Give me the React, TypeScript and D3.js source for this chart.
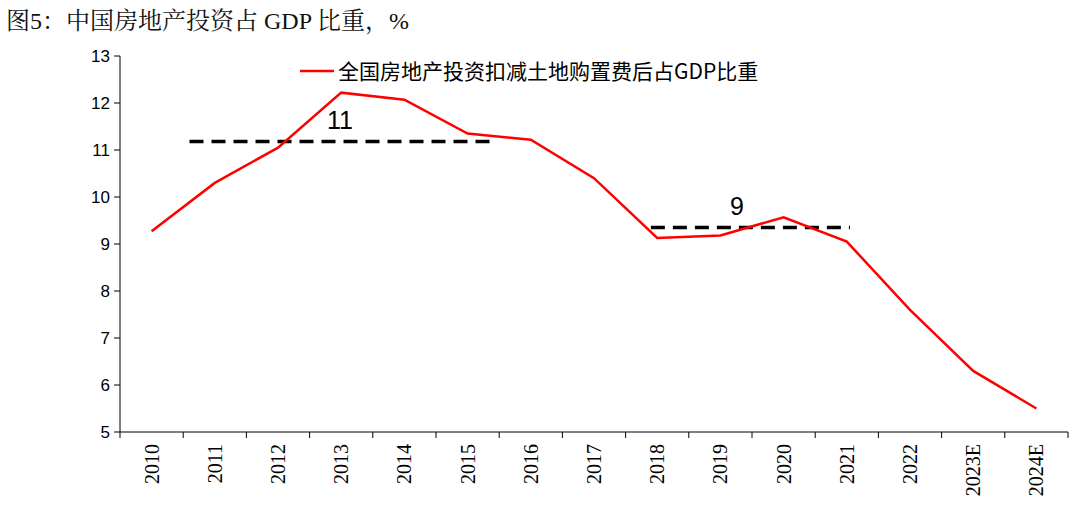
import React from "react";
import * as d3 from "d3";

const categories = ["2010","2011","2012","2013","2014","2015","2016","2017","2018","2019","2020","2021","2022","2023E","2024E"];
const share = [9.27,10.3,11.05,12.22,12.07,11.35,11.22,10.4,9.13,9.18,9.57,9.05,7.6,6.3,5.5];
const yTicks = [5,6,7,8,9,10,11,12,13];
const avgLines = [
  { value: 11.18, from: 1.1, to: 5.97, label: "11", labelAt: 3.48 },
  { value: 9.35, from: 8.4, to: 11.55, label: "9", labelAt: 9.76 },
];

export default function App() {
  const W = 1080, H = 512;
  const L = 120, R = 1068, T = 56, B = 432;
  const x = d3.scaleLinear().domain([0, categories.length]).range([L, R]);
  const y = d3.scaleLinear().domain([5, 13]).range([B, T]);
  const line = d3.line<number>().x((_, i) => x(i + 0.5)).y(d => y(d));
  const serif = "'Liberation Serif', 'Noto Sans CJK SC', serif";
  return (
    <svg width={W} height={H} style={{ position: "absolute", left: 0, top: 0, background: "#fff" }}>
      <text x={6} y={29} fontSize={24} fontFamily="'Liberation Serif', 'Noto Serif CJK SC', 'Noto Sans CJK SC', serif" fill="#111">图5：中国房地产投资占 GDP 比重，%</text>
      <line x1={L} x2={L} y1={T} y2={B} stroke="#000" />
      <line x1={L} x2={R} y1={B} y2={B} stroke="#000" />
      {yTicks.map(t => (
        <g key={t}>
          <line x1={L - 6} x2={L} y1={y(t)} y2={y(t)} stroke="#000" />
          <text x={L - 10} y={y(t) + 6} fontSize={17} textAnchor="end" fontFamily="'Liberation Sans', Arial">{t}</text>
        </g>
      ))}
      {d3.range(categories.length + 1).map(i => (
        <line key={i} x1={x(i)} x2={x(i)} y1={B} y2={B + 6} stroke="#000" />
      ))}
      {categories.map((c, i) => (
        <text key={c} transform={`translate(${x(i + 0.5) + 7},${B + 12}) rotate(-90)`} fontSize={20} textAnchor="end" fontFamily={serif}>{c}</text>
      ))}
      {avgLines.map(a => (
        <g key={a.label}>
          <line x1={x(a.from)} x2={x(a.to)} y1={y(a.value)} y2={y(a.value)} stroke="#000" strokeWidth={3.5} strokeDasharray="14,8" />
          <text x={x(a.labelAt)} y={y(a.value) - 13} fontSize={25} textAnchor="middle" fontFamily="'Liberation Sans', Arial">{a.label}</text>
        </g>
      ))}
      <path d={line(share) || ""} fill="none" stroke="#ff0000" strokeWidth={2.5} />
      <line x1={300} x2={334} y1={71} y2={71} stroke="#ff0000" strokeWidth={2.5} />
      <text x={338} y={79} fontSize={21} fontFamily="'Noto Sans CJK SC', sans-serif">全国房地产投资扣减土地购置费后占GDP比重</text>
    </svg>
  );
}
